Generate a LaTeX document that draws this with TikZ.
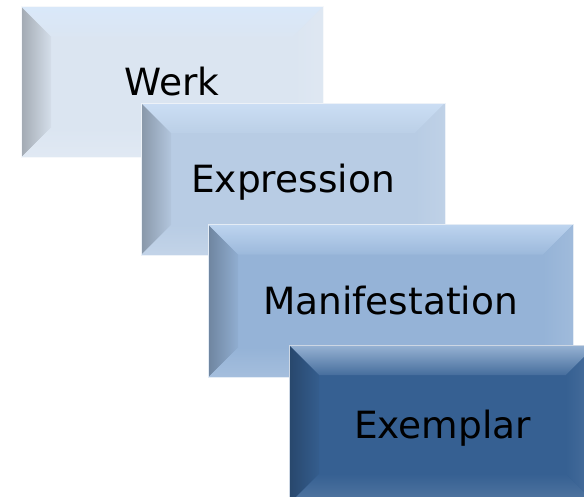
\documentclass[tikz,border=0pt]{standalone}
\usepackage{fontspec}
\setmainfont{DejaVu Sans}
\usetikzlibrary{positioning}

\definecolor{werkblue}{HTML}{DBE5F1}
\definecolor{exprblue}{HTML}{B8CCE4}
\definecolor{maniblue}{HTML}{95B3D7}
\definecolor{exemblue}{HTML}{366092}
\definecolor{glint}{HTML}{D8EAFF}
\def\bev{30pt}

\tikzset{
  tile/.style={rectangle, fill=#1, draw=white!75!#1, line width=0.8pt,
    inner sep=0pt, text height=27.3pt, text depth=0pt,
    font=\fontsize{37.5}{42}\selectfont,
    path picture={
      \coordinate (a) at (path picture bounding box.north west);
      \coordinate (b) at (path picture bounding box.north east);
      \coordinate (c) at (path picture bounding box.south east);
      \coordinate (d) at (path picture bounding box.south west);
      % top, left, right, bottom facets
      \shade[top color=glint!60!#1, bottom color=glint!10!#1]
        (a) -- (b) -- ([shift={(-\bev,-\bev)}]b) -- ([shift={(\bev,-\bev)}]a) -- cycle;
      \shade[left color=#1!74!black, right color=#1!97!black]
        (a) -- ([shift={(\bev,-\bev)}]a) -- ([shift={(\bev,\bev)}]d) -- (d) -- cycle;
      \shade[left color=#1, right color=#1!90!white]
        (b) -- (c) -- ([shift={(-\bev,\bev)}]c) -- ([shift={(-\bev,-\bev)}]b) -- cycle;
      \shade[top color=#1, bottom color=#1!85!white]
        (d) -- ([shift={(\bev,\bev)}]d) -- ([shift={(-\bev,\bev)}]c) -- (c) -- cycle;
    }}
}

\begin{document}
\begin{tikzpicture}[on grid]
  \useasboundingbox (0,0) rectangle (584pt,-496pt);
  \node[tile=werkblue, minimum width=302pt, minimum height=151pt] (w) at (172pt,-82pt) {Werk};
  \node[tile=exprblue, minimum width=304pt, minimum height=152pt] (e)
    [below right=97pt and 121pt of w] {Expression};
  \node[tile=maniblue, minimum width=365pt, minimum height=153pt] (m)
    [below right=122pt and 97.5pt of e] {Manifestation};
  \node[tile=exemblue, minimum width=307pt, minimum height=159pt] (x)
    [below right=123.5pt and 52pt of m] {Exemplar};
\end{tikzpicture}
\end{document}
